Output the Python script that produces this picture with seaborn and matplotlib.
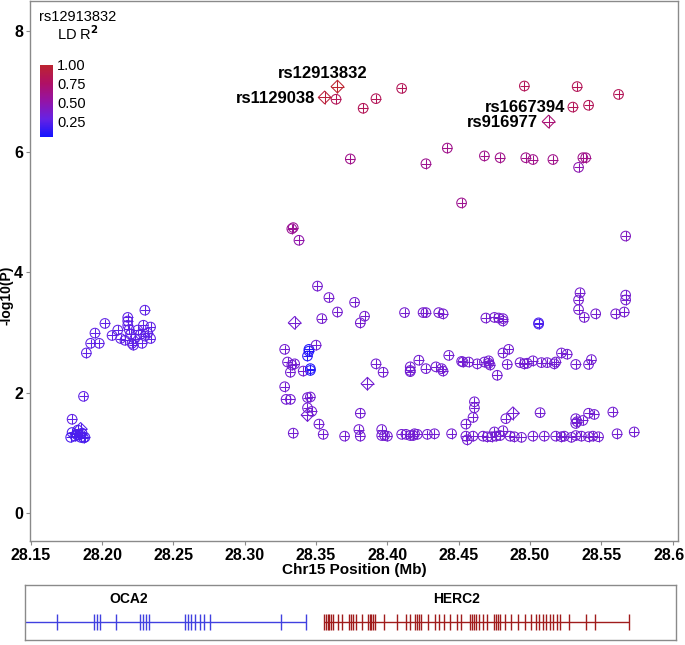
import numpy as np
import pandas as pd
import seaborn as sns
import matplotlib
matplotlib.use("Agg")
import matplotlib.pyplot as plt
from matplotlib.colors import LinearSegmentedColormap, Normalize
from matplotlib.cm import ScalarMappable
from matplotlib.transforms import ScaledTranslation

# SNPs drawn as circle-plus
pos = [
    28.179, 28.187, 28.189, 28.192, 28.198, 28.195, 28.202, 28.207, 28.211, 28.213,
    28.216, 28.218, 28.218, 28.218, 28.220, 28.219, 28.223, 28.222, 28.225, 28.227,
    28.229, 28.230, 28.230, 28.232, 28.234, 28.234, 28.228, 28.221,
    28.179, 28.181, 28.183, 28.185, 28.186, 28.188, 28.182, 28.178, 28.187, 28.184,
    28.333, 28.334, 28.338, 28.452, 28.374, 28.442, 28.427, 28.468, 28.479, 28.497,
    28.502, 28.516, 28.537, 28.539, 28.534, 28.567,
    28.364, 28.383, 28.392, 28.410, 28.496, 28.533, 28.562, 28.530, 28.541,
    28.351, 28.359, 28.377, 28.354, 28.365, 28.384, 28.381, 28.412, 28.425, 28.427,
    28.436, 28.439, 28.469, 28.475, 28.478, 28.481, 28.481, 28.506, 28.506, 28.535,
    28.534, 28.534, 28.538, 28.546, 28.560, 28.567, 28.567, 28.566,
    28.328, 28.345, 28.345, 28.350, 28.344, 28.330, 28.333, 28.335, 28.332, 28.341,
    28.346, 28.346, 28.328, 28.392, 28.397, 28.416, 28.416, 28.416, 28.422, 28.427,
    28.434, 28.438, 28.439, 28.443, 28.452, 28.453, 28.457, 28.463, 28.468, 28.471,
    28.472, 28.471, 28.477, 28.481, 28.485, 28.484, 28.493, 28.496, 28.498, 28.502,
    28.508, 28.512, 28.517, 28.518, 28.522, 28.526, 28.532, 28.541, 28.543,
    28.329, 28.332, 28.344, 28.346, 28.344, 28.347, 28.352, 28.334, 28.355, 28.370,
    28.381, 28.380, 28.381, 28.396, 28.396, 28.398, 28.400, 28.410, 28.413, 28.416,
    28.418, 28.419, 28.421, 28.428, 28.433, 28.445, 28.461, 28.461, 28.460, 28.455,
    28.455, 28.456, 28.460, 28.467, 28.470, 28.473, 28.476, 28.479, 28.475, 28.481,
    28.483, 28.507, 28.486, 28.489, 28.494, 28.502, 28.510, 28.518, 28.522, 28.524,
    28.529, 28.532, 28.532, 28.532, 28.533, 28.537, 28.541, 28.545, 28.558, 28.561,
    28.573, 28.536, 28.541, 28.544, 28.548,
]
logp = [
    1.56, 1.94, 2.66, 2.82, 2.82, 2.99, 3.15, 2.95, 3.04, 2.90,
    2.87, 3.25, 3.19, 3.12, 2.97, 3.05, 2.90, 2.79, 3.04, 2.97,
    3.12, 3.37, 2.94, 2.99, 2.90, 3.09, 2.82, 2.82,
    1.34, 1.28, 1.38, 1.26, 1.33, 1.26, 1.31, 1.26, 1.25, 1.30,
    4.72, 4.74, 4.53, 5.15, 5.88, 6.06, 5.80, 5.93, 5.90, 5.90,
    5.87, 5.87, 5.90, 5.90, 5.74, 4.60,
    6.87, 6.72, 6.88, 7.05, 7.09, 7.08, 6.95, 6.74, 6.77,
    3.77, 3.58, 3.50, 3.23, 3.34, 3.27, 3.16, 3.33, 3.33, 3.33,
    3.33, 3.31, 3.24, 3.25, 3.24, 3.23, 3.19, 3.14, 3.16, 3.66,
    3.54, 3.38, 3.25, 3.31, 3.31, 3.62, 3.54, 3.34,
    2.72, 2.72, 2.69, 2.79, 2.61, 2.51, 2.46, 2.48, 2.34, 2.36,
    2.40, 2.37, 2.10, 2.48, 2.34, 2.43, 2.37, 2.35, 2.54, 2.40,
    2.43, 2.40, 2.36, 2.62, 2.52, 2.51, 2.51, 2.48, 2.51, 2.49,
    2.46, 2.53, 2.29, 2.66, 2.72, 2.47, 2.50, 2.48, 2.49, 2.53,
    2.50, 2.50, 2.48, 2.51, 2.66, 2.64, 2.47, 2.47, 2.55,
    1.89, 1.89, 1.92, 1.93, 1.75, 1.69, 1.48, 1.33, 1.31, 1.28,
    1.66, 1.39, 1.28, 1.39, 1.29, 1.29, 1.28, 1.31, 1.31, 1.29,
    1.29, 1.32, 1.31, 1.31, 1.32, 1.32, 1.85, 1.75, 1.59, 1.48,
    1.28, 1.22, 1.28, 1.28, 1.27, 1.27, 1.28, 1.29, 1.35, 1.37,
    1.57, 1.67, 1.28, 1.27, 1.26, 1.28, 1.28, 1.28, 1.27, 1.28,
    1.26, 1.29, 1.57, 1.49, 1.52, 1.54, 1.66, 1.64, 1.68, 1.32,
    1.35, 1.28, 1.27, 1.28, 1.27,
]
r2 = (
    [0.26] * 28 + [0.20] * 10
    + [0.58, 0.58, 0.50, 0.60, 0.62, 0.62, 0.60, 0.62, 0.62, 0.62,
       0.62, 0.62, 0.62, 0.62, 0.48, 0.42]
    + [0.82] * 9
    + [0.36] * 17 + [0.20, 0.20] + [0.36] * 9
    + [0.35, 0.08, 0.08, 0.35, 0.10, 0.35, 0.35, 0.35, 0.35, 0.35,
       0.08, 0.08] + [0.35] * 37
    + [0.35] * 65
)

# SNPs drawn as diamond-plus
dpos = [28.365, 28.356, 28.513, 28.335, 28.386, 28.344, 28.488, 28.185]
dlogp = [7.08, 6.90, 6.50, 3.16, 2.15, 1.63, 1.66, 1.40]
dr2 = [1.00, 0.95, 0.70, 0.35, 0.35, 0.35, 0.35, 0.22]

# labelled SNPs: name, x, y of label
lab_names = ["rs12913832", "rs1129038", "rs1667394", "rs916977"]
lab_x = [28.355, 28.3494, 28.5245, 28.5055]
lab_y = [7.29, 6.89, 6.74, 6.49]
lab_ha = ["center", "right", "right", "right"]

xticks = [28.15, 28.20, 28.25, 28.30, 28.35, 28.40, 28.45, 28.50, 28.55, 28.60]
xticklabels = ["28.15", "28.20", "28.25", "28.30", "28.35", "28.40", "28.45",
               "28.50", "28.55", "28.6"]

# genes
oca2_span = [28.000, 28.3430]
oca2_exons = [28.1686, 28.1945, 28.1969, 28.1990, 28.2096, 28.2264, 28.2286, 28.2307,
              28.2329, 28.2581, 28.2603, 28.2625, 28.2655, 28.2686, 28.2716, 28.2758,
              28.3255, 28.3430]
herc2_span = [28.3556, 28.5691]
herc2_exons = [28.3556, 28.3568, 28.3581, 28.3594, 28.3606, 28.3618, 28.3655, 28.3685,
               28.3732, 28.3747, 28.3763, 28.3778, 28.3824, 28.3864, 28.3876, 28.3889,
               28.3901, 28.3916, 28.3978, 28.4070, 28.4132, 28.4162, 28.4193, 28.4209,
               28.4224, 28.4239, 28.4285, 28.4332, 28.4362, 28.4400, 28.4439, 28.4486,
               28.4516, 28.4577, 28.4593, 28.4608, 28.4624, 28.4639, 28.4670, 28.4701,
               28.4747, 28.4762, 28.4778, 28.4793, 28.4824, 28.4870, 28.4916, 28.4962,
               28.5008, 28.5039, 28.5064, 28.5088, 28.5113, 28.5137, 28.5162, 28.5187,
               28.5211, 28.5270, 28.5393, 28.5454, 28.5691]

circles = pd.DataFrame({"pos": pos, "logp": logp, "r2": r2})
diamonds = pd.DataFrame({"pos": dpos, "logp": dlogp, "r2": dr2})

sns.set_theme(style="white")
plt.rcParams['font.family'] = ['Liberation Sans', 'DejaVu Sans']
plt.rcParams['text.color'] = 'black'

cmap = LinearSegmentedColormap.from_list(
    "ld", ["#1414ff", "#6622e4", "#9414a6", "#b01064", "#bc2430"])
hnorm = (0.04, 1.0)
frame_col = "#8a8a8a"

fig = plt.figure(figsize=(6.85, 6.45), dpi=100)
ax = fig.add_axes([30 / 685, 104 / 645, 648 / 685, 540 / 645])


def hollow(df, marker, size, lw=0.75):
    sns.scatterplot(data=df, x="pos", y="logp", hue="r2", palette=cmap, hue_norm=hnorm,
                    marker=marker, s=size, linewidth=lw, legend=False, ax=ax)
    coll = ax.collections[-1]
    fc = coll.get_facecolors()
    coll.set_edgecolors(fc)
    coll.set_facecolors("none")


def cross(df, size, lw=0.75):
    sns.scatterplot(data=df, x="pos", y="logp", hue="r2", palette=cmap, hue_norm=hnorm,
                    marker="+", s=size, linewidth=lw, legend=False, ax=ax)


hollow(circles, "o", 48)
cross(circles, 48)
hollow(diamonds, "D", 42)
cross(diamonds, 84)

for name, x, y, ha in zip(lab_names, lab_x, lab_y, lab_ha):
    ax.text(x, y, name, ha=ha, va="center", fontsize=12, fontweight="bold", color="black")

ax.set_xlim(28.1495, 28.6037)
ax.set_ylim(-0.46, 8.5)
ax.set_xticks(xticks)
ax.set_xticklabels(xticklabels)
ax.set_yticks([0, 2, 4, 6, 8])
ax.tick_params(axis="both", length=3, width=0.8, color=frame_col, labelsize=11.5,
               labelcolor="black", pad=2, bottom=True, left=True)
for lab in ax.get_xticklabels() + ax.get_yticklabels():
    lab.set_fontweight("bold")
last = ax.get_xticklabels()[-1]
last.set_transform(last.get_transform() + ScaledTranslation(-4 / 100, 0, fig.dpi_scale_trans))
ax.set_xlabel("Chr15 Position (Mb)", fontsize=11, fontweight="bold", labelpad=0, color="black")
ax.set_ylabel("")
fig.text(7 / 685, 1 - 295 / 645, "-log10(P)", rotation=90, ha="center", va="center",
         fontsize=10, fontweight="bold")
for sp in ax.spines.values():
    sp.set_color(frame_col)
    sp.set_linewidth(1.0)

# colour legend
cax = fig.add_axes([40 / 685, (645 - 137) / 645, 13 / 685, 72 / 645])
sm = ScalarMappable(norm=Normalize(*hnorm), cmap=cmap)
cb = fig.colorbar(sm, cax=cax, ticks=[0.25, 0.5, 0.75, 1.0])
cb.ax.set_yticklabels(["0.25", "0.50", "0.75", "1.00"])
cb.ax.tick_params(length=0, labelsize=10.5, pad=3, labelcolor="black")
cb.outline.set_visible(False)
fig.text(78 / 685, 1 - 17 / 645, "rs12913832", ha="center", va="center", fontsize=10.5)
fig.text(78 / 685, 1 - 34 / 645, "LD R$^\\mathbf{2}$", ha="center", va="center", fontsize=10.5)

# gene track
gax = fig.add_axes([25 / 685, 5 / 645, 651 / 685, 55 / 645])
gax.set_xlim(28.1461, 28.6023)
gax.set_ylim(0, 1)
gax.hlines(0.33, *oca2_span, color="#4040e0", lw=1.0)
gax.vlines(oca2_exons, 0.18, 0.48, color="#4040e0", lw=1.0)
gax.hlines(0.33, *herc2_span, color="#a01c1c", lw=1.0)
gax.vlines(herc2_exons, 0.18, 0.48, color="#a01c1c", lw=1.0)
gax.text(28.2184, 0.74, "OCA2", ha="center", va="center", fontsize=10, fontweight="bold")
gax.text(28.4488, 0.74, "HERC2", ha="center", va="center", fontsize=10, fontweight="bold")
gax.set_xticks([])
gax.set_yticks([])
for sp in gax.spines.values():
    sp.set_color(frame_col)
    sp.set_linewidth(1.0)

fig.savefig("out.png", dpi=100)
